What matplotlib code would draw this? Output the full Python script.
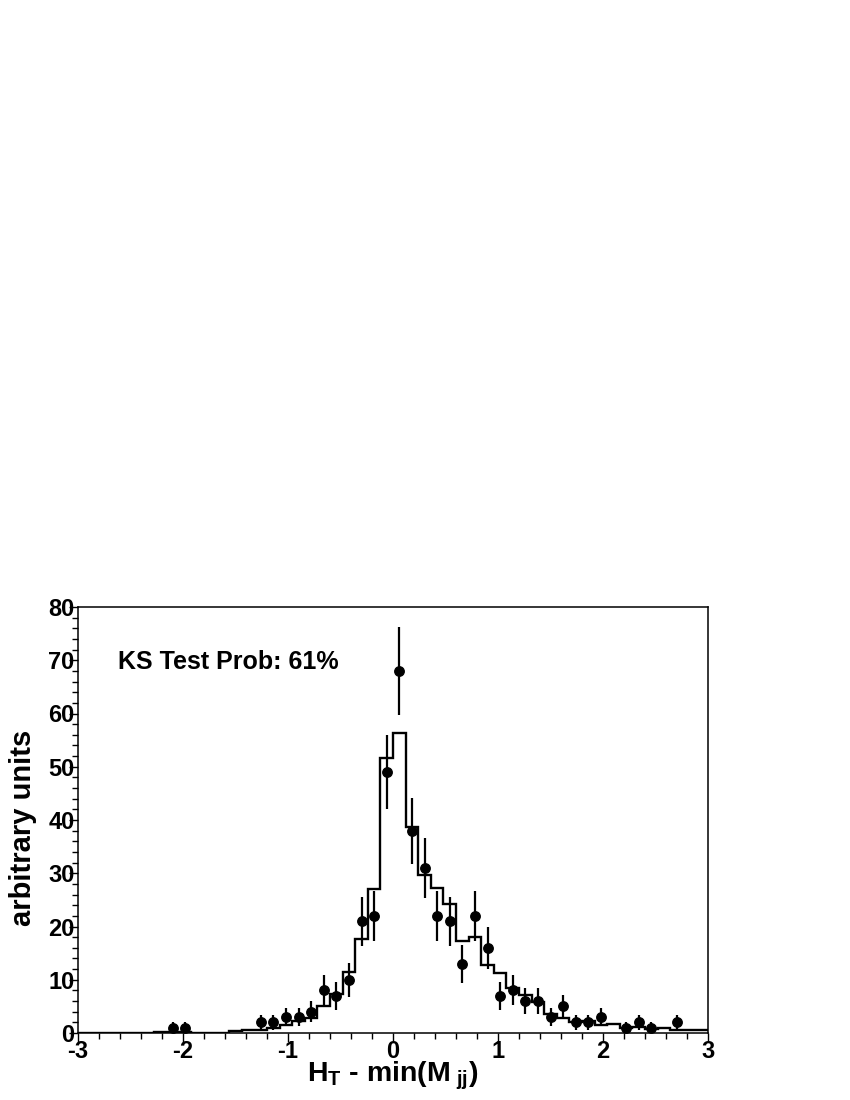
import numpy as np
import matplotlib
matplotlib.use("Agg")
import matplotlib.pyplot as plt
from matplotlib.ticker import MultipleLocator

plt.rcParams['font.family'] = ['Liberation Sans', 'DejaVu Sans']
plt.rcParams['font.weight'] = 'bold'
plt.rcParams['axes.unicode_minus'] = False
plt.rcParams['mathtext.fontset'] = 'custom'
plt.rcParams['mathtext.rm'] = 'Liberation Sans:bold'
plt.rcParams['mathtext.bf'] = 'Liberation Sans:bold'
plt.rcParams['mathtext.it'] = 'Liberation Sans:bold'

# ---- data ----
bin_edges = np.linspace(-3.0, 3.0, 51)
mc_values = [0.05, 0.05, 0.05, 0.05, 0.05, 0.05, 0.15, 0.15, 0.15, 0.05,
             0.05, 0.05, 0.3, 0.55, 0.55, 1.0, 1.5, 2.2, 2.8, 5.1,
             7.3, 11.5, 17.6, 27.0, 51.6, 56.4, 38.7, 29.7, 27.3, 24.2,
             17.3, 18.0, 12.8, 11.2, 8.4, 7.1, 5.9, 3.6, 2.8, 2.1,
             2.2, 1.5, 1.6, 1.0, 1.1, 0.8, 0.9, 0.6, 0.6, 0.6]

data_x = [-2.10, -1.98, -1.26, -1.14, -1.02, -0.90, -0.78, -0.66, -0.54, -0.42,
          -0.30, -0.18, -0.06, 0.06, 0.18, 0.30, 0.42, 0.54, 0.66, 0.78,
          0.90, 1.02, 1.14, 1.26, 1.38, 1.50, 1.62, 1.74, 1.86, 1.98,
          2.22, 2.34, 2.46, 2.70]
data_y = [1, 1, 2, 2, 3, 3, 4, 8, 7, 10,
          21, 22, 49, 68, 38, 31, 22, 21, 13, 22,
          16, 7, 8, 6, 6, 3, 5, 2, 2, 3,
          1, 2, 1, 2]
data_err = [1.0, 1.0, 1.4, 1.4, 1.7, 1.7, 2.0, 2.8, 2.6, 3.2,
            4.6, 4.7, 7.0, 8.2, 6.2, 5.6, 4.7, 4.6, 3.6, 4.7,
            4.0, 2.6, 2.8, 2.4, 2.4, 1.7, 2.2, 1.4, 1.4, 1.7,
            1.0, 1.4, 1.0, 1.4]

x_label = r'H$_\mathbf{T}$ - min(M$_\mathbf{\ jj}$)'
y_label = 'arbitrary units'
annotation = 'KS Test Prob: 61%'

# ---- figure ----
W, H = 850, 1100
fig = plt.figure(figsize=(W / 100, H / 100), dpi=100)
ax = fig.add_axes([78 / W, 1 - 1033 / H, 630 / W, 426 / H])

ax.stairs(mc_values, bin_edges, baseline=None, color='black', linewidth=1.7, zorder=2)
ax.errorbar(data_x, data_y, yerr=data_err, fmt='o', color='black',
            markersize=6.8, elinewidth=1.6, capsize=0, zorder=3)

ax.set_xlim(-3, 3)
ax.set_ylim(0, 80)
ax.xaxis.set_major_locator(MultipleLocator(1))
ax.xaxis.set_minor_locator(MultipleLocator(0.2))
ax.yaxis.set_major_locator(MultipleLocator(10))
ax.yaxis.set_minor_locator(MultipleLocator(2))

for s in ax.spines.values():
    s.set_linewidth(1.1)

ax.tick_params(which='both', direction='out', top=False, right=False, width=1.0)
ax.tick_params(which='major', length=6.5)
ax.tick_params(which='minor', length=4.6)
ax.tick_params(axis='y', which='major', pad=-4.0, labelsize=17)
ax.tick_params(axis='x', which='major', pad=-1.5, labelsize=17)
for lab in ax.get_xticklabels() + ax.get_yticklabels():
    lab.set_fontweight('bold')

fig.text(118 / W, 1 - 662 / H, annotation, fontsize=18, fontweight='bold',
         va='center', ha='left')

fig.text(393 / W, 1 - 1082 / H, x_label, fontsize=20.5, fontweight='bold',
         ha='center', va='baseline')
fig.text(23 / W, 1 - 828 / H, y_label, fontsize=21, fontweight='bold',
         ha='center', va='center', rotation=90)

fig.savefig('out.png', dpi=100, facecolor='white')
